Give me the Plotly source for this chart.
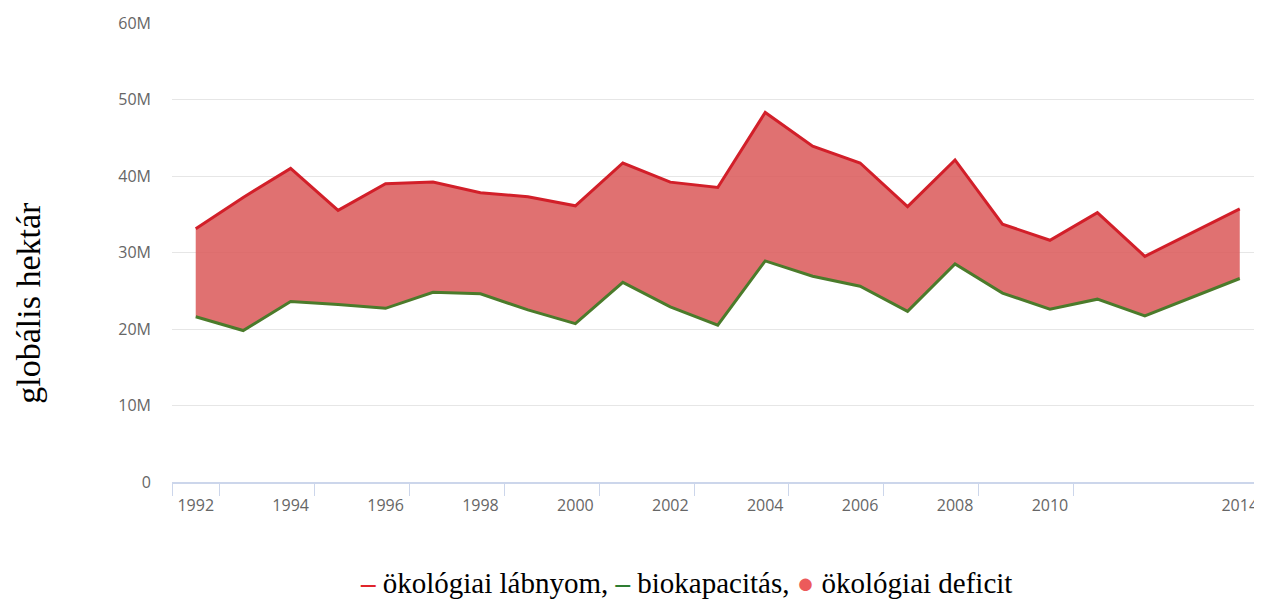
import plotly.graph_objects as go

years = list(range(1992, 2015))
footprint = [33.1, 37.2, 41.0, 35.5, 39.0, 39.2, 37.8, 37.3, 36.1, 41.7, 39.2, 38.5,
             48.3, 43.9, 41.7, 36.0, 42.1, 33.7, 31.6, 35.2, 29.5, 32.6, 35.7]
biocapacity = [21.6, 19.8, 23.6, 23.2, 22.7, 24.8, 24.6, 22.5, 20.7, 26.1, 22.9, 20.5,
               28.9, 26.9, 25.6, 22.3, 28.5, 24.7, 22.6, 23.9, 21.7, 24.2, 26.6]
footprint = [v * 1e6 for v in footprint]
biocapacity = [v * 1e6 for v in biocapacity]

x_label_years = [1992, 1994, 1996, 1998, 2000, 2002, 2004, 2006, 2008, 2010, 2014]
x_tick_marks = [1991.5, 1992.5, 1994.5, 1996.5, 1998.5, 2000.5, 2002.5, 2004.5,
                2006.5, 2008.5, 2010.5]
y_tick_vals = [0, 10e6, 20e6, 30e6, 40e6, 50e6, 60e6]
y_tick_text = ["0", "10M", "20M", "30M", "40M", "50M", "60M"]

y_title = "globális hektár"
legend_items = [("ökológiai lábnyom", "–", "#e0252b"),
                ("biokapacitás", "–", "#2e7d32"),
                ("ökológiai deficit", "●", "#ec5b5b")]

RED = "#d21f29"
GREEN = "#4b7b2b"
FILL = "rgba(219,88,88,0.85)"
XR = [1991.5, 2014.3]

fig = go.Figure()
fig.add_trace(go.Scatter(x=years, y=biocapacity, mode="lines",
                         line=dict(color=GREEN, width=3), showlegend=False,
                         name="biokapacitás"))
fig.add_trace(go.Scatter(x=years, y=footprint, mode="lines", fill="tonexty",
                         fillcolor=FILL, line=dict(color=RED, width=3),
                         showlegend=False, name="ökológiai lábnyom"))

legend_html = ", ".join(
    f'<span style="color:{c}"><b>{sym}</b></span> {name}' for name, sym, c in legend_items)

fig.update_layout(
    width=1254, height=594,
    margin=dict(l=164, r=4, t=12, b=120),
    paper_bgcolor="white", plot_bgcolor="white",
    showlegend=False,
    xaxis=dict(range=XR, tickmode="array", tickvals=x_label_years,
               ticktext=[str(y) for y in x_label_years],
               showgrid=False, zeroline=False, ticks="",
               minor=dict(tickmode="array", tickvals=x_tick_marks,
                          ticks="outside", ticklen=12, tickcolor="#ccd6eb",
                          tickwidth=1, showgrid=False),
               showline=True, linecolor="#ccd6eb", linewidth=2,
               tickfont=dict(family="Open Sans", size=16, color="#666666"),
               ticklabelstandoff=8, ticklabeloverflow="allow"),
    yaxis=dict(range=[0, 60e6], tickmode="array", tickvals=y_tick_vals,
               ticktext=y_tick_text, showgrid=True, gridcolor="#e6e6e6",
               gridwidth=1, zeroline=False, ticks="",
               ticklabelstandoff=20,
               tickfont=dict(family="Open Sans", size=16, color="#666666")),
    annotations=[
        dict(text=y_title, textangle=-90, xref="paper", yref="paper",
             x=-0.1326, y=0.3896, xanchor="center", yanchor="middle",
             showarrow=False,
             font=dict(family="Liberation Serif", size=34, color="black")),
        dict(text=legend_html, xref="paper", yref="paper", x=0.4747, y=-0.2208,
             xanchor="center", yanchor="middle", showarrow=False,
             font=dict(family="Liberation Serif", size=29, color="black")),
    ],
)

fig.write_html("out.html")
